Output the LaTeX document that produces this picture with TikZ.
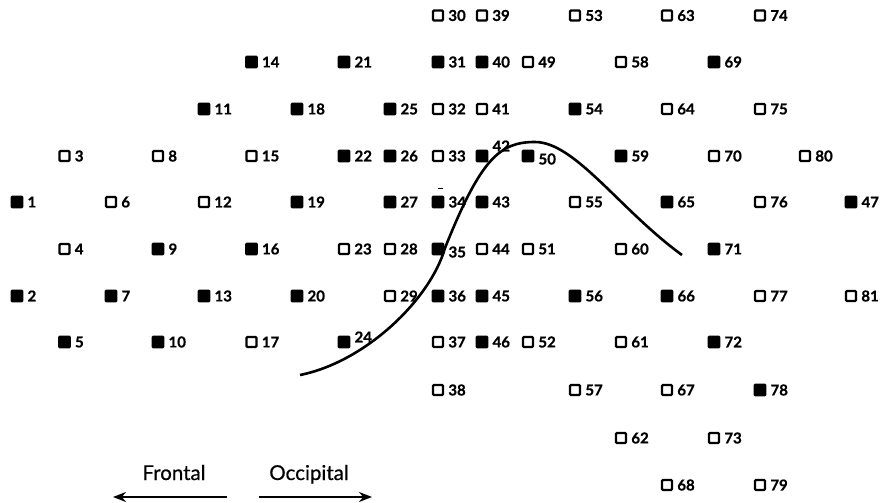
\documentclass[tikz,border=0pt]{standalone}
\usepackage{fontspec}
\setmainfont{Lato}
\usetikzlibrary{arrows.meta}
\begin{document}
\begin{tikzpicture}[x=1pt,y=-1pt,
  sqF/.style={draw=black,fill=black,line width=1.2pt,minimum size=11.5pt,inner sep=0pt,rounded corners=1pt},
  sqO/.style={draw=black,fill=white,line width=2.3pt,minimum size=10pt,inner sep=0pt,rounded corners=1pt},
  lab/.style={anchor=west,inner sep=0pt,font=\bfseries\addfontfeatures{FakeBold=0.8}\fontsize{15}{15}\selectfont},
  curveline/.style={line width=2.6pt},
  dirarrow/.style={line width=2.4pt,-{Stealth[length=13pt,width=10pt]}},
  dirtext/.style={anchor=base,inner sep=0pt,font=\addfontfeatures{FakeBold=0.6}\fontsize{20.5}{20.5}\selectfont}]
\useasboundingbox (0,0) rectangle (881,503);
\def\colx{{17,64.5,111,158,204,251.5,297,344,390,438,482,528,575,621,667,714,760,805,851}}
\def\rowy{{15.5,62,109,156,202,249,296,342,390,438,485}}
% curve
\coordinate (c0) at (300,375);
\coordinate (c1) at (445,248);
\coordinate (c2) at (535,142);
\coordinate (c4) at (682,255);
\draw[curveline] (c0) .. controls (365,362) and (430,300) .. (c1)
  .. controls (481,158) and (500,142) .. (c2)
  .. controls (575,142) and (620,210) .. (c4);
% small dash above 34
\draw[line width=1pt] (438,188) -- (443,188);
% electrodes
\foreach \n/\c/\r/\s/\dy in {
 1/0/4/sqF/0, 2/0/6/sqF/0, 3/1/3/sqO/0, 4/1/5/sqO/0, 5/1/7/sqF/0,
 6/2/4/sqO/0, 7/2/6/sqF/0, 8/3/3/sqO/0, 9/3/5/sqF/0, 10/3/7/sqF/0,
 11/4/2/sqF/0, 12/4/4/sqO/0, 13/4/6/sqF/0, 14/5/1/sqF/0, 15/5/3/sqO/0,
 16/5/5/sqF/0, 17/5/7/sqO/0, 18/6/2/sqF/0, 19/6/4/sqF/0, 20/6/6/sqF/0,
 21/7/1/sqF/0, 22/7/3/sqF/0, 23/7/5/sqO/0, 24/7/7/sqF/5,
 25/8/2/sqF/0, 26/8/3/sqF/0, 27/8/4/sqF/0, 28/8/5/sqO/0, 29/8/6/sqO/0,
 30/9/0/sqO/0, 31/9/1/sqF/0, 32/9/2/sqO/0, 33/9/3/sqO/0, 34/9/4/sqF/0,
 35/9/5/sqF/-3, 36/9/6/sqF/0, 37/9/7/sqO/0, 38/9/8/sqO/0,
 39/10/0/sqO/0, 40/10/1/sqF/0, 41/10/2/sqO/0, 42/10/3/sqF/10, 43/10/4/sqF/0,
 44/10/5/sqO/0, 45/10/6/sqF/0, 46/10/7/sqF/0, 47/18/4/sqF/0,
 49/11/1/sqO/0, 50/11/3/sqF/-3, 51/11/5/sqO/0, 52/11/7/sqO/0,
 53/12/0/sqO/0, 54/12/2/sqF/0, 55/12/4/sqO/0, 56/12/6/sqF/0, 57/12/8/sqO/0,
 58/13/1/sqO/0, 59/13/3/sqF/0, 60/13/5/sqO/0, 61/13/7/sqO/0, 62/13/9/sqO/0,
 63/14/0/sqO/0, 64/14/2/sqO/0, 65/14/4/sqF/0, 66/14/6/sqF/0, 67/14/8/sqO/0, 68/14/10/sqO/0,
 69/15/1/sqF/0, 70/15/3/sqO/0, 71/15/5/sqF/0, 72/15/7/sqF/0, 73/15/9/sqO/0,
 74/16/0/sqO/0, 75/16/2/sqO/0, 76/16/4/sqO/0, 77/16/6/sqO/0, 78/16/8/sqF/0, 79/16/10/sqO/0,
 80/17/3/sqO/0, 81/18/6/sqO/0}{
  \pgfmathsetmacro\xx{\colx[\c]}
  \pgfmathsetmacro\yy{\rowy[\r]}
  \node[\s] (e\n) at (\xx,\yy) {};
  \node[lab,xshift=4pt,yshift=\dy pt] (l\n) at (e\n.east) {\n};
}
% direction arrows
\coordinate (fs) at (227,497);
\coordinate (fe) at (113,497);
\coordinate (os) at (259,497);
\coordinate (oe) at (372,497);
\draw[dirarrow] (fs) -- (fe);
\draw[dirarrow] (os) -- (oe);
\node[dirtext] (ft) at (174,480) {Frontal};
\node[dirtext] (ot) at (309,480) {Occipital};
\end{tikzpicture}
\end{document}
